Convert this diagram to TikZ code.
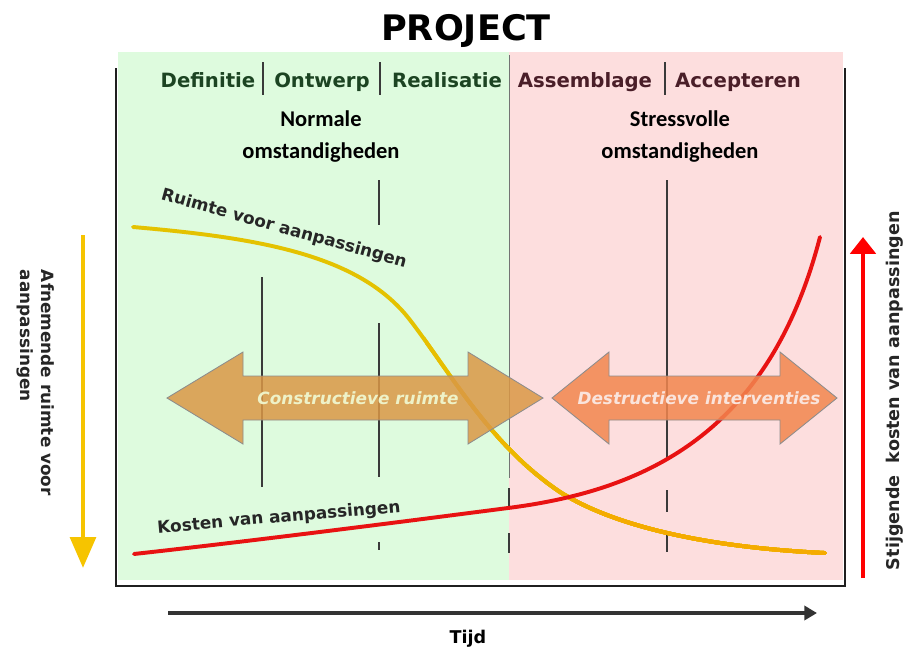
\documentclass[tikz,border=0pt]{standalone}
\usepackage{fontspec}
\setmainfont{DejaVu Sans}
\newfontfamily\calibri{Carlito}
\usetikzlibrary{arrows.meta, math}
\definecolor{phasegreen}{RGB}{28,68,34}
\definecolor{phasered}{RGB}{74,30,40}
\definecolor{normalbg}{RGB}{222,251,222}
\definecolor{stressbg}{RGB}{253,222,222}
\definecolor{ruimteyellow}{RGB}{228,194,0}
\definecolor{ruimteorange}{RGB}{246,170,0}
\definecolor{kostenred}{RGB}{232,18,18}
\definecolor{constrfill}{RGB}{218,152,70}
\definecolor{destrfill}{RGB}{242,134,78}
\definecolor{constrtext}{RGB}{238,242,200}
\definecolor{destrtext}{RGB}{250,228,220}
\definecolor{barline}{RGB}{58,58,58}
\definecolor{arrowyellow}{RGB}{246,196,0}

\tikzset{
  phase/.style={anchor=base, font=\bfseries\fontsize{14}{16}\selectfont},
  situation/.style={anchor=base, font=\calibri\bfseries\fontsize{16}{19}\selectfont},
  curvelabel/.style={font=\bfseries\fontsize{12}{14}\selectfont, text=black!85},
  sidelabel/.style={anchor=base west, font=\bfseries\fontsize{12}{14}\selectfont, text=black!85},
  bar/.style={draw=barline, line width=1.1pt},
  bigarrow/.style={draw=black!45, line width=0.6pt, fill opacity=0.85},
}

\newcommand\ruimtecurve{(133,227) .. controls (260,238) and (360,255) .. (410,320) .. controls (450,372) and (490,445) .. (560,492) .. controls (620,530) and (720,548) .. (825,553)}

\begin{document}
\begin{tikzpicture}[x=0.025cm, y=-0.025cm]
\tikzmath{
\xl=118;
\xm=509;
\xr=843;
\yt=52;
\yb=580;
\ym=398;
\shaft=22;
\head=46;
}
\useasboundingbox (0,0) rectangle (904,647);

%phase backgrounds
\fill[normalbg] (\xl,\yt) rectangle (\xm,\yb);
\fill[stressbg] (\xm,\yt) rectangle (\xr,\yb);

%frame
\draw[black!88, line width=2.1pt] (116,68) -- (116,586) -- (845,586) -- (845,68);

%title
\node[anchor=base, font=\bfseries\fontsize{25}{28}\selectfont] (title) at (466,40) {PROJECT};

%phases
\node[phase, text=phasegreen] (definitie) at (208,87) {Definitie};
\node[phase, text=phasegreen] (ontwerp) at (322,87) {Ontwerp};
\node[phase, text=phasegreen] (realisatie) at (447,87) {Realisatie};
\node[phase, text=phasered] (assemblage) at (585,87) {Assemblage};
\node[phase, text=phasered] (accepteren) at (738,87) {Accepteren};
\foreach \x in {263,380,665}
  \draw[bar, line width=0.9pt] (\x,62) -- (\x,95);
\draw[black!55, line width=0.7pt] (\xm,55) -- (\xm,478);

\node[situation] (normaal1) at (321,126) {Normale};
\node[situation] (normaal2) at (321,158) {omstandigheden};
\node[situation] (stress1) at (680,126) {Stressvolle};
\node[situation] (stress2) at (680,158) {omstandigheden};

%phase borders
\foreach \x/\ya/\yb in {262/277/487, 379/180/225, 379/323/477, 379/542/550, 667/180/460, 667/490/512, 667/533/552, 509/488/508, 509/533/553}
  \draw[bar] (\x,\ya) -- (\x,\yb);

%curves
\draw[ruimteyellow, line width=2.8pt, line cap=round] \ruimtecurve;
\foreach \i in {1,...,6}{
  \pgfmathsetmacro{\bx}{390+35*\i}
  \pgfmathsetmacro{\mix}{100-16*\i}
  \begin{scope}
    \clip (\bx,0) rectangle (904,647);
    \draw[ruimteyellow!\mix!ruimteorange, line width=2.8pt, line cap=round] \ruimtecurve;
  \end{scope}
}
\draw[kostenred, line width=2.8pt, line cap=round] (134,554) .. controls (260,540) and (400,522) .. (508,508) .. controls (650,490) and (770,430) .. (820,237);

\node[curvelabel, rotate=-15.5] (ruimte) at (284,229) {Ruimte voor aanpassingen};
\node[curvelabel, rotate=5] (kosten) at (279,518) {Kosten van aanpassingen};

%double arrows
\filldraw[bigarrow, fill=constrfill] (167,\ym) -- (243,\ym-\head) -- (243,\ym-\shaft) -- (468,\ym-\shaft) -- (468,\ym-\head) -- (543,\ym) -- (468,\ym+\head) -- (468,\ym+\shaft) -- (243,\ym+\shaft) -- (243,\ym+\head) -- cycle;
\filldraw[bigarrow, fill=destrfill] (552,\ym) -- (609,\ym-\head) -- (609,\ym-\shaft) -- (780,\ym-\shaft) -- (780,\ym-\head) -- (837,\ym) -- (780,\ym+\head) -- (780,\ym+\shaft) -- (609,\ym+\shaft) -- (609,\ym+\head) -- cycle;
\node[font=\bfseries\itshape\fontsize{12}{14}\selectfont, text=constrtext] (constructief) at (358,\ym) {Constructieve ruimte};
\node[font=\bfseries\itshape\fontsize{12}{14}\selectfont, text=destrtext] (destructief) at (699,\ym) {Destructieve interventies};

%side arrows
\coordinate (afn top) at (83,235);
\coordinate (afn bottom) at (83,568);
\draw[arrowyellow, line width=3.5pt, -{Triangle[length=22pt, width=18pt]}] (afn top) -- (afn bottom);
\node[sidelabel, rotate=-90] (afnemend1) at (42,265) {Afnemende ruimte voor};
\node[sidelabel, rotate=-90] (afnemend2) at (21,265) {aanpassingen};

\coordinate (stijg bottom) at (863,578);
\coordinate (stijg top) at (863,237);
\draw[red, line width=3.5pt, -{Triangle[length=12pt, width=18pt]}] (stijg bottom) -- (stijg top);
\node[sidelabel, rotate=90, font=\bfseries\fontsize{12.5}{14}\selectfont] (stijgend) at (899,575) {Stijgende\ \ kosten van aanpassingen};

%time axis
\coordinate (t start) at (168,613);
\coordinate (t end) at (817,613);
\draw[black!80, line width=2.8pt, -{Triangle[length=9pt, width=10pt]}] (t start) -- (t end);
\node[anchor=base, font=\bfseries\fontsize{12.5}{14}\selectfont] (tijd) at (468,643) {Tijd};
\end{tikzpicture}
\end{document}
